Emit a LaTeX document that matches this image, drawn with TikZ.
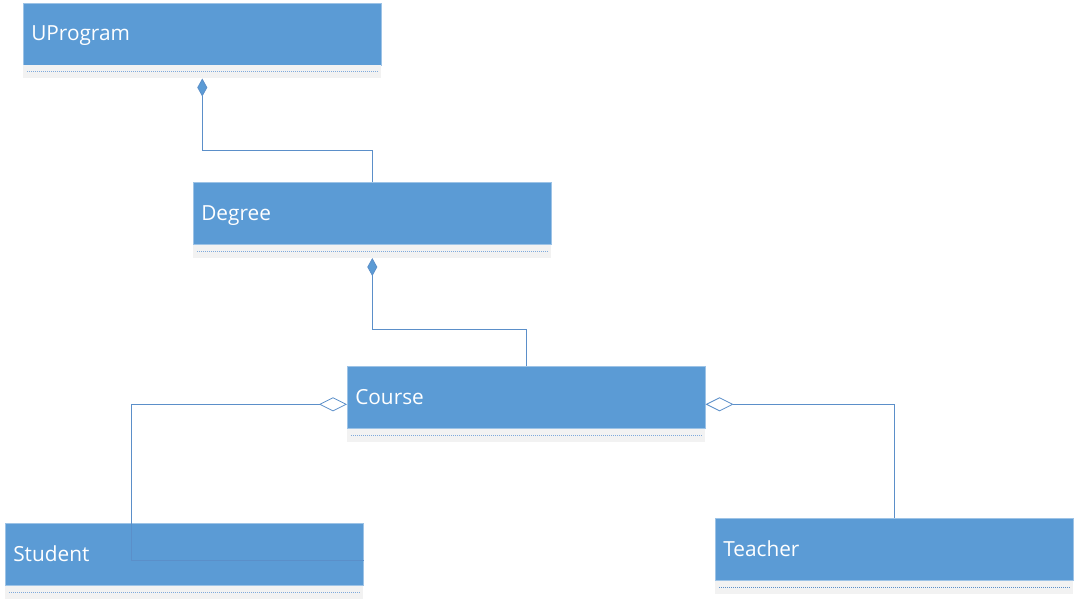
\documentclass[tikz,border=0pt]{standalone}
\usepackage{fontspec}
\setmainfont{Open Sans}
\usetikzlibrary{arrows.meta,calc}
\definecolor{hdrblue}{HTML}{5B9BD5}
\definecolor{edgeblue}{HTML}{9DC3E6}
\definecolor{dotblue}{HTML}{7FAADC}
\definecolor{stripgray}{HTML}{F2F2F2}
\definecolor{lineblue}{HTML}{5B8FC9}
\tikzset{
  hdr/.style={rectangle, fill=hdrblue, draw=edgeblue, line width=0.6pt, text=white,
    minimum height=62pt, text width=342pt, inner xsep=8pt, align=left, anchor=north west,
    font=\fontsize{20.8}{24}\selectfont, text depth=1pt},
  strip/.style={rectangle, fill=stripgray, draw=none, minimum width=358pt, minimum height=13pt,
    inner sep=0pt, anchor=north},
  dots/.style={draw=dotblue, line width=1pt, dash pattern=on 1pt off 1pt},
  comp/.style={draw=lineblue, line width=0.8pt, -{Diamond[length=18pt,width=10pt,fill=hdrblue]}},
  agg/.style={draw=lineblue, line width=0.8pt, -{Diamond[open,length=28pt,width=14pt,fill=white,line width=0.8pt]}},
}
\begin{document}
\begin{tikzpicture}[x=1pt,y=-1pt]
\useasboundingbox (0,0) rectangle (1075,600);
% UProgram
\node[hdr] (uh) at (23,2.5) {UProgram};
\node[strip] (ug) at (uh.south) {};
\draw[dots] ([xshift=4pt]ug.west) -- ([xshift=-4pt]ug.east);
% Degree
\node[hdr] (dh) at (193,182) {Degree};
\node[strip] (dg) at (dh.south) {};
\draw[dots] ([xshift=4pt]dg.west) -- ([xshift=-4pt]dg.east);
% Course
\node[hdr] (ch) at (347,366) {Course};
\node[strip] (cg) at (ch.south) {};
\draw[dots] ([xshift=4pt]cg.west) -- ([xshift=-4pt]cg.east);
% Student
\node[hdr] (sh) at (5,523) {Student};
\node[strip] (sg) at (sh.south) {};
\draw[dots] ([xshift=4pt]sg.west) -- ([xshift=-4pt]sg.east);
% Teacher
\node[hdr] (th) at (715,518) {Teacher};
\node[strip] (tg) at (th.south) {};
\draw[dots,draw=lineblue] ([xshift=4pt]tg.west) -- ([xshift=-4pt]tg.east);
% connectors
\draw[comp] (dh.north) -- ++(0,-32) -| (ug.south);
\draw[comp] (ch.north) -- ++(0,-37) -| (dg.south);
\draw[agg] ([yshift=-6.5pt]sh.east) -- ++(-232,0) |- ([yshift=-7pt]ch.west);
\draw[agg] (th.north) |- ([yshift=-7pt]ch.east);
\end{tikzpicture}
\end{document}
